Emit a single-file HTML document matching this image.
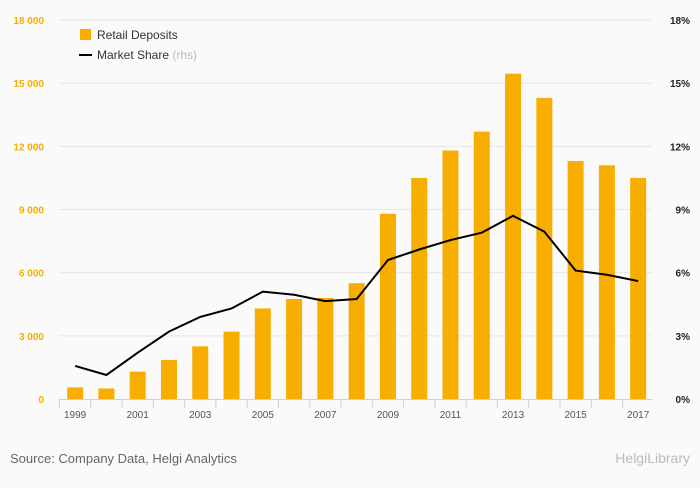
<!DOCTYPE html>
<html><head><meta charset="utf-8"><style>
body{margin:0;background:#fafafa;font-family:"Liberation Sans",sans-serif;}
svg text{font-family:"Liberation Sans",sans-serif;}
</style></head><body>
<svg id="c" width="700" height="483" xmlns="http://www.w3.org/2000/svg">
<rect width="700" height="483" fill="#fafafa"/>
<g id="grid"></g>
<g id="bars"></g>
<g id="line"></g>
<g id="axes"></g>
<g>
<rect x="80" y="29" width="11" height="11" fill="#f7ae00"/>
<text x="97" y="39" font-size="12" fill="#333">Retail Deposits</text>
<line x1="79" y1="55" x2="92" y2="55" stroke="#000" stroke-width="2"/>
<text x="97" y="59" font-size="12" fill="#333">Market Share <tspan fill="#bbb">(rhs)</tspan></text>
</g>
<text x="10" y="463" font-size="13" fill="#666">Source: Company Data, Helgi Analytics</text>
<text x="690" y="463" font-size="14" fill="#bbb" text-anchor="end">HelgiLibrary</text>
</svg>
<script>
const years=[1999,2000,2001,2002,2003,2004,2005,2006,2007,2008,2009,2010,2011,2012,2013,2014,2015,2016,2017];
const deposits=[550,500,1300,1850,2500,3200,4300,4750,4800,5500,8800,10500,11800,12700,15450,14300,11300,11100,10500];
const share=[1.57,1.14,2.2,3.2,3.9,4.3,5.1,4.95,4.65,4.75,6.6,7.1,7.55,7.9,8.7,7.95,6.1,5.9,5.6];
const leftTicks=[0,3000,6000,9000,12000,15000,18000];
const leftLabels=["0","3 000","6 000","9 000","12 000","15 000","18 000"];
const rightLabels=["0%","3%","6%","9%","12%","15%","18%"];
const NS="http://www.w3.org/2000/svg";
const x0=59.5,step=31.28,yb=399,yt=20;
const yL=v=>yb-(v/18000)*(yb-yt);
const yR=v=>yb-(v/18)*(yb-yt);
const xc=i=>x0+step*(i+0.5);
function mk(p,t,a){const e=document.createElementNS(NS,t);for(const k in a)e.setAttribute(k,a[k]);document.getElementById(p).appendChild(e);return e;}
leftTicks.forEach((v,i)=>{
 if(i>0){const g=mk('grid','line',{x1:59,x2:652,y1:yL(v),y2:yL(v),stroke:'#e6e6e6'});
 
 }
 const t=mk('axes','text',{x:44,y:yL(v)+4,'font-size':10,fill:'#f7ae00','text-anchor':'end','font-weight':'bold'});t.textContent=leftLabels[i];
 
 
 const r=mk('axes','text',{x:690,y:yL(v)+4,'font-size':10,fill:'#222','text-anchor':'end','font-weight':'bold'});r.textContent=rightLabels[i];
 
 
});
years.forEach((y,i)=>{
 const b=mk('bars','rect',{x:xc(i)-8,y:yL(deposits[i]),width:16,height:yb-yL(deposits[i]),fill:'#f7ae00'});
 
 
 const tk=mk('axes','line',{x1:x0+step*i,x2:x0+step*i,y1:yb,y2:yb+9,stroke:'#c5d3e8'});
 
 
 if(i%2==0){const t=mk('axes','text',{x:xc(i),y:yb+19,'font-size':10,fill:'#555','text-anchor':'middle'});t.textContent=y;
 
 }
});
const ax=mk('axes','line',{x1:59,x2:652,y1:yb+0.5,y2:yb+0.5,stroke:'#c5d3e8'});


const pl=mk('line','polyline',{points:share.map((v,i)=>xc(i)+','+yR(v)).join(' '),fill:'none',stroke:'#000','stroke-width':2});


</script>
</body></html>
